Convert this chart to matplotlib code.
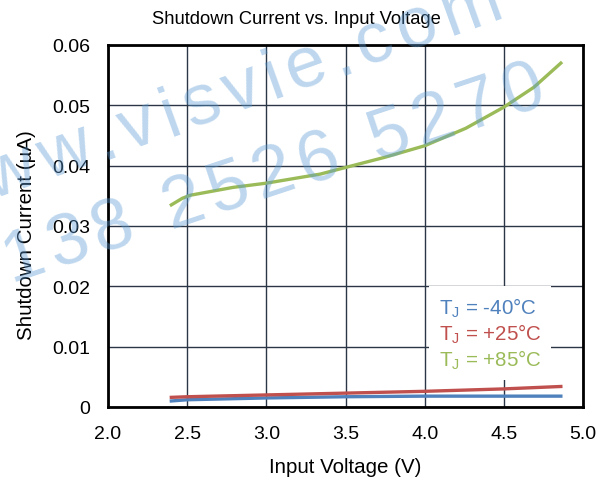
import numpy as np
import matplotlib
matplotlib.use('Agg')
import matplotlib.pyplot as plt

plt.rcParams['font.family'] = ['Liberation Sans', 'DejaVu Sans']

# data
v_85 = [2.40, 2.47, 2.52, 2.79, 3.00, 3.34, 3.50, 3.75, 4.00, 4.26, 4.50, 4.69, 4.86]
i_85 = [0.0335, 0.0346, 0.0351, 0.0364, 0.0371, 0.0386, 0.0397, 0.0414, 0.0433, 0.0462, 0.0497, 0.0530, 0.0570]

v_low = [2.40, 2.50, 3.00, 3.50, 4.00, 4.50, 4.86]
i_25 = [0.0016, 0.0017, 0.0020, 0.0023, 0.0026, 0.0030, 0.0034]
i_m40 = [0.0010, 0.0012, 0.0015, 0.0017, 0.0018, 0.0018, 0.0018]

labels = ['T$_\\mathregular{J}$ = -40°C', 'T$_\\mathregular{J}$ = +25°C', 'T$_\\mathregular{J}$ = +85°C']
colors = ['#4F81BD', '#C0504D', '#9BBB59']

xticks = [2.0, 2.5, 3.0, 3.5, 4.0, 4.5, 5.0]
yticks = [0, 0.01, 0.02, 0.03, 0.04, 0.05, 0.06]
ytick_labels = ['0', '0.01', '0.02', '0.03', '0.04', '0.05', '0.06']

W, H = 608, 481
fig = plt.figure(figsize=(W / 100, H / 100), dpi=100)
ax = fig.add_axes([108 / W, 1 - 408 / H, 475 / W, 362 / H])

ax.plot(v_low, i_m40, color=colors[0], lw=2.4, label=labels[0])
ax.plot(v_low, i_25, color=colors[1], lw=2.4, label=labels[1])
ax.plot(v_85, i_85, color=colors[2], lw=2.4, label=labels[2])

ax.set_xlim(2.0, 5.0)
ax.set_ylim(0, 0.06)
ax.set_xticks(xticks)
ax.set_xticklabels(['%.1f' % t for t in xticks])
ax.set_yticks(yticks)
ax.set_yticklabels(ytick_labels)
ax.grid(True, color='#2a3646', lw=1.0)
ax.set_axisbelow(True)
ax.tick_params(length=0, labelsize=14, pad=13)
for s in ax.spines.values():
    s.set_linewidth(2)
    s.set_color('black')

fig.text(296 / W, 1 - 24 / H, 'Shutdown Current vs. Input Voltage', fontsize=13.2,
         ha='center', va='baseline')
ax.set_xlabel('Input Voltage (V)', fontsize=14.8)
ax.xaxis.set_label_coords(0.5, -0.137)
ax.set_ylabel('Shutdown Current (µA)', fontsize=14.8)
ax.yaxis.set_label_coords(-0.152, 0.478)

leg = ax.legend(loc='lower right', bbox_to_anchor=(0.932, 0.075), borderaxespad=0,
                handlelength=0, handletextpad=0, labelcolor=colors, frameon=True,
                fancybox=False, edgecolor='none', framealpha=1, fontsize=14.8,
                labelspacing=0.1, borderpad=0.45)
for h in leg.legend_handles:
    h.set_visible(False)

# watermark, drawn glyph by glyph to get its loose letter spacing
em = 72.0
extra = 7.2
widths = {'w': .722, '.': .278, 'v': .5, 'i': .222, 's': .5, 'e': .556, 'c': .5,
          'o': .556, 'm': .833, ' ': .278}


def watermark(text, ref_idx, ref_xy, angle):
    th = np.radians(angle)
    d = np.array([np.cos(th), -np.sin(th)])
    adv = [widths.get(ch, .556) * em + extra for ch in text]
    centers = np.cumsum(adv) - np.array(adv) / 2
    for k, ch in enumerate(text):
        px = np.array(ref_xy) + (centers[k] - centers[ref_idx]) * d
        fig.text(px[0] / W, 1 - px[1] / H, ch, fontsize=em * 0.72, color='#5B9BD5',
                 alpha=0.4, ha='center', va='baseline', rotation=angle,
                 rotation_mode='anchor', zorder=10)


watermark('www.visvie.com', 3, (112, 157), 19.8)
watermark('138 2526 5270', 1, (74, 261), 18.4)

fig.savefig('out.png', dpi=100)
